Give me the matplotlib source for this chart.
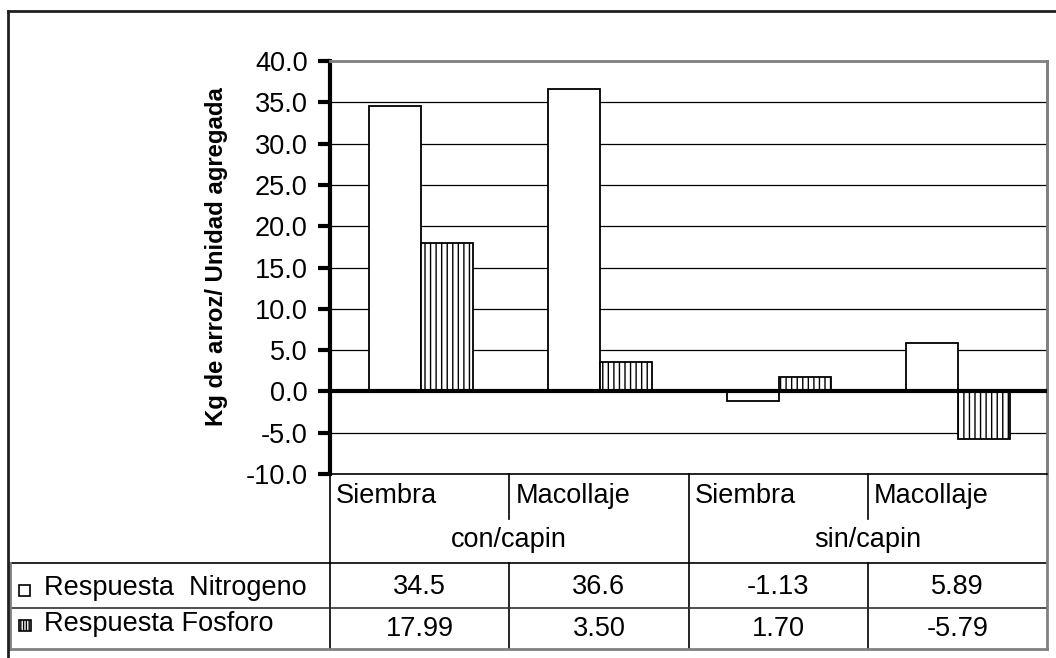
import matplotlib
matplotlib.use("Agg")
import matplotlib.pyplot as plt
from matplotlib.patches import Rectangle

# ---- data ----
groups = ["con/capin", "sin/capin"]
stages = ["Siembra", "Macollaje", "Siembra", "Macollaje"]
series_names = ["Respuesta  Nitrogeno", "Respuesta Fosforo"]
nitrogeno = [34.5, 36.6, -1.13, 5.89]
fosforo = [17.99, 3.50, 1.70, -5.79]
nitrogeno_labels = ["34.5", "36.6", "-1.13", "5.89"]
fosforo_labels = ["17.99", "3.50", "1.70", "-5.79"]
y_ticks = [-10, -5, 0, 5, 10, 15, 20, 25, 30, 35, 40]
y_label = "Kg de arroz/ Unidad agregada"

W, H = 1056, 658
FS = 19.5
plt.rcParams['font.family'] = ['Liberation Sans', 'DejaVu Sans']
plt.rcParams['hatch.linewidth'] = 1.0
fig = plt.figure(figsize=(W / 100, H / 100), dpi=100)


def px_rect(x0, y0, x1, y1):
    return [x0 / W, 1 - y1 / H, (x1 - x0) / W, (y1 - y0) / H]


# overlay in pixel coordinates for table / frame
ov = fig.add_axes([0, 0, 1, 1], zorder=0)
ov.set_xlim(0, W)
ov.set_ylim(H, 0)
ov.axis('off')

ax = fig.add_axes(px_rect(330, 61, 1047, 474), zorder=2)
ax.patch.set_alpha(0)
n = len(stages)
bw = 0.29
xs = list(range(n))
ax.bar([x - bw / 2 + 0.005 for x in xs], nitrogeno, width=bw, color='white',
       edgecolor='black', linewidth=1.3, zorder=3)
ax.bar([x + bw / 2 + 0.005 for x in xs], fosforo, width=bw, color='white',
       edgecolor='black', linewidth=1.3, hatch='|||', zorder=3)
ax.set_xlim(-0.5, n - 0.5)
ax.set_ylim(-10, 40)
ax.set_yticks(y_ticks)
ax.set_yticklabels([f"{v:.1f}" for v in y_ticks], fontsize=FS)
ax.set_xticks([])
ax.yaxis.grid(True, color='black', linewidth=0.9)
ax.set_axisbelow(True)
ax.axhline(0, color='black', linewidth=3, zorder=4)
ax.tick_params(axis='y', length=9, width=3, direction='out', pad=7, colors='black')
ax.spines['left'].set_linewidth(3)
ax.spines['left'].set_color('black')
ax.spines['bottom'].set_linewidth(1.2)
ax.spines['bottom'].set_color('black')
for s in ('top', 'right'):
    ax.spines[s].set_color('#808080')
    ax.spines[s].set_linewidth(2)

fig.text(216 / W, 1 - 257 / H, y_label, rotation=90, ha='center', va='center',
         fontsize=17.2, fontweight='bold')

# category edges in pixels from the axis scale
fig.canvas.draw()
edges = [ax.transData.transform((x - 0.5, 0))[0] for x in range(n + 1)]
centers = [ax.transData.transform((x, 0))[0] for x in range(n)]

# table lines
r0, r1, r2, r3, r4 = 474, 519, 563, 608, 649
lk = dict(color='black', linewidth=1.2)
gk = dict(color='#808080', linewidth=2)
for i, e in enumerate(edges[:-1]):
    if i % 2 == 0:
        ov.plot([e, e], [r0, r4], **lk)
    else:
        ov.plot([e, e], [r0, r1], **lk)
        ov.plot([e, e], [r2, r4], **lk)
ov.plot([10, edges[-1]], [r2, r2], **lk)
ov.plot([10, edges[-1]], [r3, r3], color='#303030', linewidth=1.2)
# plot-area border (gray)
ov.plot([edges[-1], edges[-1]], [61, r4], **gk)
ov.plot([10, edges[-1]], [r4, r4], **gk)
ov.plot([10, 10], [r2, r4], **gk)
# outer chart frame
ov.plot([8, 8], [11, H + 2], color='#202020', linewidth=2)
ov.plot([8, W + 2], [11, 11], color='#202020', linewidth=2)

# stage labels
for i, s in enumerate(stages):
    ov.text(edges[i] + 6, 503, s, ha='left', va='baseline', fontsize=FS)
# group labels
for g, name in enumerate(groups):
    cx = (edges[2 * g] + edges[2 * g + 2]) / 2
    ov.text(cx, 547, name, ha='center', va='baseline', fontsize=FS)
# values
for i in range(n):
    ov.text(centers[i], 594, nitrogeno_labels[i], ha='center', va='baseline', fontsize=FS)
    ov.text(centers[i], 636, fosforo_labels[i], ha='center', va='baseline', fontsize=FS)

# legend keys
ov.add_patch(Rectangle((19, 585), 11, 11, facecolor='white', edgecolor='black', linewidth=1.2))
ov.add_patch(Rectangle((19, 620), 12, 11, facecolor='white', edgecolor='black', linewidth=1.2,
                       hatch='||||||'))
ov.text(44, 595, series_names[0], ha='left', va='baseline', fontsize=FS)
ov.text(44, 631, series_names[1], ha='left', va='baseline', fontsize=FS)

fig.savefig("out.png", dpi=100)
